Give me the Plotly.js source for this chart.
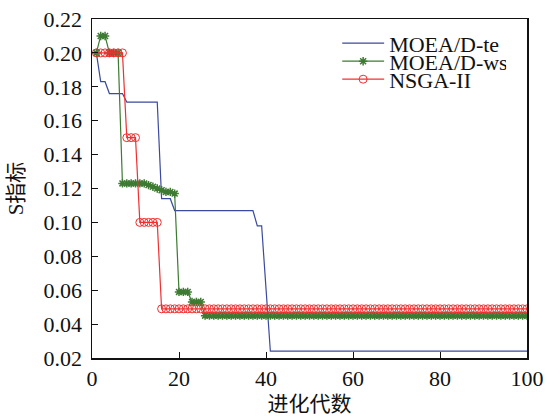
<!DOCTYPE html>
<html>
<head>
<meta charset="utf-8">
<script src="https://cdn.plot.ly/plotly-3.0.1.min.js"></script>
<style>html,body{margin:0;padding:0;background:#fff;}#chart{width:548px;height:416px;}</style>
</head>
<body>
<div id="chart"></div>
<script>
const generations = [1,2,3,4,5,6,7,8,9,10,11,12,13,14,15,16,17,18,19,20,21,22,23,24,25,26,27,28,29,30,31,32,33,34,35,36,37,38,39,40,41,42,43,44,45,46,47,48,49,50,51,52,53,54,55,56,57,58,59,60,61,62,63,64,65,66,67,68,69,70,71,72,73,74,75,76,77,78,79,80,81,82,83,84,85,86,87,88,89,90,91,92,93,94,95,96,97,98,99,100];

const moeadTe = [0.200,0.183,0.183,0.176,0.176,0.176,0.176,0.171,0.171,0.171,0.171,0.171,0.171,0.171,0.171,0.114,0.114,0.114,0.107,0.107,
0.107,0.107,0.107,0.107,0.107,0.107,0.107,0.107,0.107,0.107,0.107,0.107,0.107,0.107,0.107,0.107,0.107,0.098,0.098,0.061,
0.024,0.024,0.024,0.024,0.024,0.024,0.024,0.024,0.024,0.024,0.024,0.024,0.024,0.024,0.024,0.024,0.024,0.024,0.024,0.024,
0.024,0.024,0.024,0.024,0.024,0.024,0.024,0.024,0.024,0.024,0.024,0.024,0.024,0.024,0.024,0.024,0.024,0.024,0.024,0.024,
0.024,0.024,0.024,0.024,0.024,0.024,0.024,0.024,0.024,0.024,0.024,0.024,0.024,0.024,0.024,0.024,0.024,0.024,0.024,0.024];

const moeadWs = [0.200,0.210,0.210,0.200,0.200,0.200,0.123,0.123,0.123,0.123,0.123,0.123,0.122,0.121,0.120,0.119,0.118,0.118,0.117,0.059,
0.059,0.059,0.053,0.053,0.053,0.045,0.045,0.045,0.045,0.045,0.045,0.045,0.045,0.045,0.045,0.045,0.045,0.045,0.045,0.045,
0.045,0.045,0.045,0.045,0.045,0.045,0.045,0.045,0.045,0.045,0.045,0.045,0.045,0.045,0.045,0.045,0.045,0.045,0.045,0.045,
0.045,0.045,0.045,0.045,0.045,0.045,0.045,0.045,0.045,0.045,0.045,0.045,0.045,0.045,0.045,0.045,0.045,0.045,0.045,0.045,
0.045,0.045,0.045,0.045,0.045,0.045,0.045,0.045,0.045,0.045,0.045,0.045,0.045,0.045,0.045,0.045,0.045,0.045,0.045,0.045];

const nsga2 = [0.200,0.200,0.200,0.200,0.200,0.200,0.200,0.150,0.150,0.150,0.100,0.100,0.100,0.100,0.100,0.049,0.049,0.049,0.049,0.049,
0.049,0.049,0.049,0.049,0.049,0.049,0.049,0.049,0.049,0.049,0.049,0.049,0.049,0.049,0.049,0.049,0.049,0.049,0.049,0.049,
0.049,0.049,0.049,0.049,0.049,0.049,0.049,0.049,0.049,0.049,0.049,0.049,0.049,0.049,0.049,0.049,0.049,0.049,0.049,0.049,
0.049,0.049,0.049,0.049,0.049,0.049,0.049,0.049,0.049,0.049,0.049,0.049,0.049,0.049,0.049,0.049,0.049,0.049,0.049,0.049,
0.049,0.049,0.049,0.049,0.049,0.049,0.049,0.049,0.049,0.049,0.049,0.049,0.049,0.049,0.049,0.049,0.049,0.049,0.049,0.049];

const seriesNames = ['MOEA/D-te','MOEA/D-ws','NSGA-II'];
const xTicks = [0,20,40,60,80,100];
const yTicks = [0.02,0.04,0.06,0.08,0.10,0.12,0.14,0.16,0.18,0.20,0.22];
const yTickText = ['0.02','0.04','0.06','0.08','0.10','0.12','0.14','0.16','0.18','0.20','0.22'];

const FONT = '"Liberation Serif", "Times New Roman", "Noto Sans CJK SC", serif';

const traces = [
  {x: generations, y: moeadTe, name: seriesNames[0], mode: 'lines',
   line: {color: '#3a4a9e', width: 1.2}},
  {x: generations, y: moeadWs, name: seriesNames[1], mode: 'lines+markers',
   line: {color: '#3d7a32', width: 1.2},
   marker: {symbol: 'asterisk-open', size: 7, line: {color: '#3d7a32', width: 1.5}}},
  {x: generations, y: nsga2, name: seriesNames[2], mode: 'lines+markers',
   line: {color: '#f03030', width: 1.2},
   marker: {symbol: 'circle-open', size: 8, color: '#f03030', line: {color: '#f03030', width: 1}}}
];

const layout = {
  width: 548, height: 416,
  margin: {l: 92, r: 21, t: 19, b: 58},
  paper_bgcolor: '#fff', plot_bgcolor: '#fff',
  font: {family: FONT, size: 22, color: '#111'},
  showlegend: true,
  legend: {x: 0.575, y: 0.99, xanchor: 'left', yanchor: 'top', bgcolor: 'rgba(0,0,0,0)',
           font: {family: FONT, size: 22, color: '#111'}, tracegroupgap: 0, itemwidth: 30},
  xaxis: {range: [0, 100], tickvals: xTicks, ticks: 'inside', ticklen: 6, tickcolor: '#111',
          showline: true, linecolor: '#111', linewidth: 1.5, mirror: true, showgrid: false, zeroline: false,
          tickfont: {family: FONT, size: 22, color: '#111'},
          title: {text: '进化代数', font: {family: FONT, size: 21, color: '#111'}, standoff: 6}},
  yaxis: {range: [0.02, 0.22], tickvals: yTicks, ticktext: yTickText, ticks: 'inside', ticklen: 6, tickcolor: '#111',
          showline: true, linecolor: '#111', linewidth: 1.5, mirror: true, showgrid: false, zeroline: false,
          ticklabelstandoff: 4,
          tickfont: {family: FONT, size: 22, color: '#111'},
          title: {text: 'S指标', font: {family: FONT, size: 21, color: '#111'}, standoff: 14}}
};

Plotly.newPlot('chart', traces, layout, {staticPlot: true, displayModeBar: false}).then(function (gd) {
  // tighten the legend to match the compact original layout
  const groups = gd.querySelectorAll('.legend .traces');
  let y0 = null;
  groups.forEach(function (g, i) {
    const m = /translate\(\s*([-\d.]+)[ ,]+([-\d.]+)\s*\)/.exec(g.getAttribute('transform') || '');
    const tx = m ? parseFloat(m[1]) : 0;
    const ty = m ? parseFloat(m[2]) : 0;
    if (y0 === null) y0 = ty;
    g.setAttribute('transform', 'translate(' + tx + ',' + (y0 + i * 18) + ')');
    g.querySelectorAll('path.js-line').forEach(function (p) { p.setAttribute('d', 'M0,0h42'); });
    g.querySelectorAll('.legendpoints path').forEach(function (p) { p.setAttribute('transform', 'translate(21,0)'); });
    const t = g.querySelector('text.legendtext');
    if (t) t.setAttribute('x', 47);
  });
});
</script>
</body>
</html>
